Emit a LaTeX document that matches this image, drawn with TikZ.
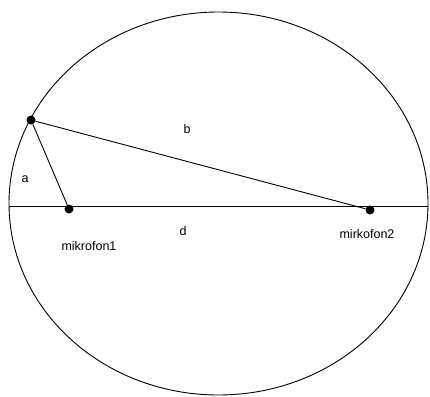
\documentclass[tikz,border=0pt]{standalone}
\usepackage{fontspec}
\setmainfont{Liberation Sans}

\begin{document}
\begin{tikzpicture}[
    x=1pt, y=-1pt,
    mic node/.style={circle, fill=black, inner sep=0pt, minimum size=9pt},
    lbl node/.style={inner sep=0pt, font=\fontsize{12.5}{14}\selectfont},
    main edge/.style={draw=black, line width=0.9pt}
]
\useasboundingbox (0,0) rectangle (430,396);

% Rand en middellijn
\draw[main edge] (218.5,203.5) ellipse [x radius=209.5, y radius=191.5];
\coordinate (L) at (9,206);
\coordinate (R) at (428,206);
\draw[main edge] (L) -- (R);

% bron op de rand, twee microfoons op de middellijn
\node[mic node] (S)  at (31,120)  {};
\node[mic node] (M1) at (69,209)  {};
\node[mic node] (M2) at (370,210) {};

\draw[main edge] (S) -- (M1);
\draw[main edge] (S) -- (M2);

% labels
\node[lbl node] (la) at (25,179)  {a};
\node[lbl node] (lb) at (187,129) {b};
\node[lbl node] (ld) at (183,231) {d};
\node[lbl node] (lm1) at (89,246) {mikrofon1};
\node[lbl node] (lm2) at (367,234) {mirkofon2};

\end{tikzpicture}
\end{document}
